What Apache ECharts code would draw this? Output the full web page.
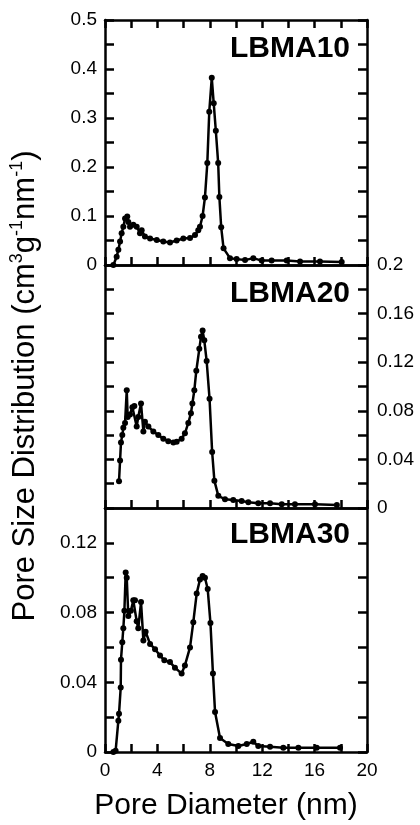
<!DOCTYPE html>
<html><head><meta charset="utf-8">
<script src="https://cdn.jsdelivr.net/npm/echarts@6/dist/echarts.min.js"></script>
<style>html,body{margin:0;padding:0;background:#fff}#c{width:420px;height:825px}</style>
</head><body><div id="c"></div>
<script>
// ---- data ----
const lbma10X = [0.64,0.89,1.02,1.15,1.27,1.40,1.53,1.70,1.78,1.91,2.16,2.42,2.67,2.80,3.05,3.44,3.95,4.45,4.96,5.47,5.98,6.49,6.87,7.12,7.25,7.45,7.63,7.81,7.96,8.15,8.30,8.46,8.64,8.73,8.87,9.05,9.54,10.05,10.69,11.32,11.96,12.72,13.87,14.89,16.41,18.07];
const lbma10Y = [0,0.017,0.031,0.048,0.065,0.078,0.095,0.099,0.088,0.078,0.082,0.078,0.065,0.071,0.058,0.054,0.051,0.048,0.046,0.050,0.054,0.055,0.061,0.071,0.078,0.100,0.138,0.208,0.313,0.382,0.330,0.274,0.208,0.139,0.077,0.034,0.014,0.012,0.010,0.014,0.009,0.009,0.009,0.007,0.007,0.006];

const lbma20X = [1.07,1.15,1.22,1.32,1.40,1.53,1.66,1.73,1.91,2.09,2.24,2.42,2.54,2.75,2.93,3.05,3.31,3.69,4.07,4.45,4.83,5.22,5.47,5.85,6.10,6.36,6.56,6.67,6.82,6.97,7.20,7.33,7.45,7.58,7.76,7.98,8.18,8.35,8.65,9.16,9.79,10.43,10.94,11.70,12.60,13.49,14.50,16.03,17.70];
const lbma20Y = [0.022,0.039,0.054,0.060,0.066,0.070,0.097,0.075,0.077,0.083,0.084,0.067,0.075,0.086,0.063,0.071,0.067,0.063,0.060,0.057,0.055,0.054,0.0545,0.057,0.0615,0.070,0.078,0.086,0.097,0.113,0.131,0.141,0.146,0.138,0.121,0.090,0.046,0.0225,0.010,0.0072,0.0066,0.0058,0.0047,0.0039,0.0039,0.003,0.003,0.003,0.0025];

const lbma30X = [0.64,0.81,1.02,1.07,1.20,1.22,1.32,1.40,1.48,1.58,1.66,1.78,1.98,2.16,2.29,2.42,2.54,2.75,2.93,3.10,3.44,3.82,4.20,4.53,4.96,5.34,5.85,6.10,6.49,6.74,7.00,7.25,7.45,7.63,7.84,8.05,8.24,8.40,8.78,9.41,10.18,10.82,11.32,11.70,12.60,13.61,14.76,16.16,17.94];
const lbma30Y = [0,0.0007,0.018,0.022,0.037,0.053,0.063,0.071,0.081,0.103,0.100,0.078,0.081,0.087,0.087,0.075,0.071,0.086,0.064,0.069,0.062,0.059,0.0554,0.0526,0.0516,0.0484,0.045,0.0497,0.060,0.0745,0.091,0.099,0.101,0.100,0.0935,0.074,0.045,0.023,0.008,0.0046,0.0034,0.0046,0.0059,0.0034,0.003,0.0025,0.0025,0.0025,0.0025];

const panelNames = ['LBMA10','LBMA20','LBMA30'];
const xTickLabels = [0,4,8,12,16,20];
const yLabels1 = [0,0.1,0.2,0.3,0.4,0.5];
const yLabels2 = [0,0.04,0.08,0.12,0.16,0.2];
const yLabels3 = [0,0.04,0.08,0.12];

// ---- layout ----
const FONT = "'Liberation Sans', Arial, sans-serif";
const L = 105, W = 262;
const grids = [
  {left: L, top: 20, width: W, height: 245},
  {left: L, top: 265, width: W, height: 243},
  {left: L, top: 508, width: W, height: 244}
];
const yRanges = [[0, 0.5, 0.05], [0, 0.2, 0.02], [0, 0.14, 0.02]];
const leftLabels = [yLabels1, null, yLabels3];
const rightLabels = [null, yLabels2, null];
const seriesData = [
  lbma10X.map((x, i) => [x, lbma10Y[i]]),
  lbma20X.map((x, i) => [x, lbma20Y[i]]),
  lbma30X.map((x, i) => [x, lbma30Y[i]])
];

function fmt(list) {
  return function (v) {
    for (const t of list) if (Math.abs(v - t) < 1e-6) return String(t);
    return '';
  };
}
const lineStyle = {color: '#000', width: 2.5};
const tickStyle = {color: '#000', width: 2.5};

const xAxes = [], yAxes = [], series = [];
grids.forEach((g, i) => {
  xAxes.push({
    type: 'value', gridIndex: i, position: 'bottom', min: 0, max: 20, interval: 2,
    axisLine: {show: true, onZero: false, lineStyle},
    axisTick: {show: true, inside: true, length: 8, lineStyle: tickStyle},
    axisLabel: {show: i === 2, formatter: fmt(xTickLabels), color: '#000', fontSize: 19, fontFamily: FONT, margin: 9},
    splitLine: {show: false}
  });
  xAxes.push({
    type: 'value', gridIndex: i, position: 'top', min: 0, max: 20, interval: 2,
    axisLine: {show: true, onZero: false, lineStyle},
    axisTick: {show: i === 0, inside: true, length: 8, lineStyle: tickStyle},
    axisLabel: {show: false},
    splitLine: {show: false}
  });
  const [mn, mx, iv] = yRanges[i];
  yAxes.push({
    type: 'value', gridIndex: i, position: 'left', min: mn, max: mx, interval: iv,
    axisLine: {show: true, onZero: false, lineStyle},
    axisTick: {show: true, inside: true, length: 9, lineStyle: tickStyle},
    axisLabel: {show: !!leftLabels[i], formatter: leftLabels[i] ? fmt(leftLabels[i]) : '', color: '#000', fontSize: 19, fontFamily: FONT, margin: 8,
      showMinLabel: true, showMaxLabel: true},
    splitLine: {show: false}
  });
  yAxes.push({
    type: 'value', gridIndex: i, position: 'right', min: mn, max: mx, interval: iv,
    axisLine: {show: true, onZero: false, lineStyle},
    axisTick: {show: true, inside: true, length: 9, lineStyle: tickStyle},
    axisLabel: {show: !!rightLabels[i], formatter: rightLabels[i] ? fmt(rightLabels[i]) : '', color: '#000', fontSize: 19, fontFamily: FONT, margin: 10,
      showMinLabel: true, showMaxLabel: true},
    splitLine: {show: false}
  });
  series.push({
    type: 'line', name: panelNames[i], xAxisIndex: 2 * i, yAxisIndex: 2 * i,
    data: seriesData[i], symbol: 'circle', symbolSize: 6, showSymbol: true,
    lineStyle: {color: '#000', width: 2.5}, itemStyle: {color: '#000'},
    animation: false, clip: false, z: 3
  });
});

const titleYs = [49, 294, 535];
const graphics = panelNames.map((n, i) => ({
  type: 'text', x: 350, y: titleYs[i], z: 10,
  style: {text: n, fill: '#000', font: "bold 30px " + FONT, align: 'right', verticalAlign: 'middle'}
}));
graphics.push({
  type: 'text', x: 226, y: 806, z: 10,
  style: {text: 'Pore Diameter (nm)', fill: '#000', font: "30px " + FONT, align: 'center', verticalAlign: 'middle'}
});
graphics.push({
  type: 'text', x: 25, y: 386, rotation: Math.PI / 2, z: 10,
  style: {
    text: '{a|Pore Size Distribution (cm}{s|3}{a|g}{s|-1}{a|nm}{s|-1}{a|)}',
    align: 'center', verticalAlign: 'middle',
    rich: {
      a: {fontSize: 31, fontFamily: FONT, fill: '#000', lineHeight: 34},
      s: {fontSize: 18, fontFamily: FONT, fill: '#000', verticalAlign: 'top', lineHeight: 20}
    }
  }
});

const chart = echarts.init(document.getElementById('c'), null, {renderer: 'canvas'});
chart.setOption({
  animation: false,
  backgroundColor: '#fff',
  grid: grids,
  xAxis: xAxes,
  yAxis: yAxes,
  series: series,
  graphic: graphics
});
</script></body></html>
